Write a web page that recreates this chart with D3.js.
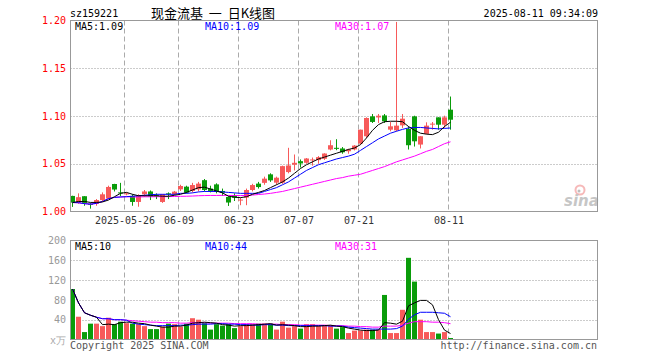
<!DOCTYPE html>
<html><head><meta charset="utf-8">
<script src="https://cdn.jsdelivr.net/npm/d3@7"></script>
<style>
body{margin:0;background:#fff}
svg{display:block}
text{font-family:"DejaVu Sans Mono",monospace;font-size:10px}
</style></head><body>
<svg id="chart" width="660" height="360"></svg>
<script>
// ---- Data ----
const code = 'sz159221';
const title = '现金流基  一  日K线图';
const stamp = '2025-08-11 09:34:09';

const open  = [1.0163,1.0093,1.016,1.008,1.008,1.012,1.0135,1.0288,1.020,1.018,1.0163,1.010,1.018,1.021,1.017,1.010,1.019,1.018,1.0232,1.026,1.0215,1.0232,1.0328,1.024,1.0284,1.0215,1.0152,1.017,1.0118,1.0146,1.0225,1.0292,1.030,1.0389,1.0302,1.0302,1.0413,1.049,1.0527,1.051,1.0535,1.0538,1.0552,1.0649,1.0667,1.066,1.0631,1.065,1.0711,1.0788,1.0996,1.0985,1.1006,1.0857,1.085,1.0902,1.0865,1.0996,1.0701,1.0813,1.0915,1.0986,1.0909,1.1066];
const high  = [1.0165,1.019,1.016,1.009,1.013,1.020,1.027,1.029,1.030,1.020,1.018,1.018,1.0225,1.022,1.019,1.018,1.020,1.0215,1.028,1.027,1.030,1.031,1.034,1.027,1.0295,1.024,1.016,1.019,1.0145,1.024,1.029,1.031,1.0365,1.040,1.0365,1.048,1.0667,1.0597,1.0545,1.056,1.0565,1.058,1.061,1.0746,1.0757,1.0675,1.0657,1.0695,1.0857,1.0986,1.1021,1.1021,1.1021,1.0937,1.1985,1.1021,1.0892,1.1003,1.0788,1.0934,1.0937,1.0986,1.1003,1.1204];
const low   = [1.0048,1.008,1.006,1.003,1.006,1.011,1.013,1.021,1.016,1.017,1.006,1.005,1.0155,1.012,1.013,1.009,1.013,1.017,1.0215,1.019,1.020,1.021,1.021,1.020,1.019,1.0163,1.0058,1.011,1.0066,1.0066,1.021,1.024,1.028,1.031,1.028,1.029,1.040,1.043,1.046,1.050,1.048,1.050,1.054,1.064,1.0642,1.0605,1.0605,1.064,1.0701,1.0771,1.0927,1.0927,1.0927,1.084,1.084,1.0875,1.0649,1.068,1.066,1.0809,1.0857,1.0857,1.0875,1.0857];
const close = [1.0093,1.015,1.009,1.007,1.012,1.018,1.0257,1.023,1.019,1.019,1.010,1.0167,1.021,1.016,1.016,1.018,1.0185,1.0208,1.0267,1.0198,1.0277,1.0292,1.0225,1.0215,1.0204,1.0198,1.0094,1.0145,1.0125,1.0225,1.0277,1.0256,1.0344,1.0326,1.0354,1.0475,1.0482,1.051,1.0503,1.0555,1.0545,1.0569,1.0607,1.0694,1.0656,1.062,1.0649,1.069,1.0857,1.0979,1.0938,1.1003,1.0944,1.0892,1.0899,1.0972,1.0694,1.0735,1.0788,1.0899,1.092,1.0909,1.0986,1.0961];
const volume = [102,46,15,32,32,27,44,31,36,33,32,31,27,21,21,26,32,31,26,32,43,40,33,20,31,28,31,23,27,31,31,32,32,32,20,36,24,27,22,31,31,27,28,29,22,25,13,18,18,20,20,20,90,13,13,60,165,117,40,15,15,12,15,3];

const ma5  = [1.0094,1.0105,1.0105,1.0095,1.0095,1.010,1.012,1.0155,1.019,1.020,1.018,1.0165,1.0165,1.0165,1.0165,1.016,1.016,1.017,1.018,1.020,1.0225,1.025,1.0255,1.0235,1.0215,1.0195,1.016,1.015,1.0145,1.0155,1.018,1.020,1.022,1.025,1.028,1.031,1.035,1.040,1.045,1.049,1.052,1.055,1.057,1.059,1.061,1.063,1.065,1.0665,1.070,1.077,1.085,1.091,1.094,1.0945,1.0945,1.094,1.089,1.085,1.082,1.081,1.0805,1.083,1.089,1.0935];
const ma10 = [1.0094,1.0092,1.0082,1.0077,1.0085,1.0105,1.0135,1.0148,1.0152,1.0155,1.016,1.0165,1.017,1.0175,1.018,1.018,1.018,1.018,1.019,1.019,1.0195,1.0205,1.021,1.021,1.021,1.0205,1.020,1.0195,1.019,1.019,1.019,1.019,1.021,1.023,1.025,1.028,1.031,1.035,1.039,1.043,1.046,1.049,1.051,1.053,1.055,1.0565,1.058,1.060,1.064,1.068,1.072,1.076,1.079,1.082,1.084,1.086,1.0875,1.088,1.088,1.0875,1.087,1.0865,1.087,1.0875];
const ma30 = [1.0094,1.0092,1.0082,1.0077,1.0085,1.0105,1.0135,1.0148,1.0152,1.0155,1.0152,1.0152,1.0154,1.0154,1.0155,1.0155,1.0156,1.0157,1.0159,1.016,1.0162,1.0165,1.0167,1.0168,1.0168,1.0169,1.0168,1.0168,1.0167,1.0168,1.0172,1.0178,1.0183,1.019,1.020,1.021,1.0225,1.024,1.0255,1.027,1.0285,1.030,1.0315,1.033,1.0345,1.0355,1.037,1.038,1.039,1.041,1.043,1.045,1.047,1.0495,1.052,1.054,1.056,1.058,1.0605,1.063,1.065,1.068,1.071,1.073];

const vma5  = [102,74,54,49,45,30,31,30,34,35,35,33,32,29,27,25,25,27,27,29,33,34,35,34,33,30,29,27,28,28,29,30,31,32,29,30,29,28,26,26,27,27,28,29,27,26,23,21,19,18,18,19,34,33,31,37,68,74,79,79,70,40,19,12];
const vma10 = [102,74,54,49,45,42,42,40,40,39,33,31,30,29,28,28,28,28,29,29,30,31,31,31,32,32,31,31,30,30,29,29,30,30,29,29,28,28,28,28,28,28,28,27,27,27,25,24,23,22,21,21,21,21,22,27,41,50,55,55,55,54,53,46];
const vma30 = [102,74,54,49,45,42,42,40,40,39,38,37,36,35,35,34,34,34,33,33,34,34,34,33,33,33,33,32,32,32,32,31,31,31,31,30,30,30,29,29,29,29,29,28,28,28,27,27,26,26,25,25,27,27,27,29,33,36,36,36,35,35,34,32];

const dateTicks  = [9, 18, 28, 38, 48, 63];
const dateLabels = ['2025-05-26', '06-09', '06-23', '07-07', '07-21', '08-11'];
const priceTicks = [1.00, 1.05, 1.10, 1.15, 1.20];
const volTicks   = [40, 80, 120, 160, 200];
const priceLegend = [['MA5:1.09', '#000'], ['MA10:1.09', '#0000ff'], ['MA30:1.07', '#ff00ff']];
const volLegend   = [['MA5:10', '#000'], ['MA10:44', '#0000ff'], ['MA30:31', '#ff00ff']];

// ---- Layout ----
const svg = d3.select('#chart');
const left = 70.5, right = 597.5;
const RED = '#f75a5a', GREEN = '#0a9c0a';

const x = d3.scaleLinear().domain([0, 87]).range([72.5, 72.5 + 6 * 87]);
const yP = d3.scaleLinear().domain([1.0, 1.2]).range([211.5, 20.5]);
const yV = d3.scaleLinear().domain([0, 200]).range([339.5, 240.5]);

// header
svg.append('text').attr('x', 70).attr('y', 17).attr('fill', '#000').text(code);
svg.append('text').attr('x', 151).attr('y', 18)
  .style('font-family', '"Noto Sans CJK SC", sans-serif').style('font-size', '13px')
  .style('white-space', 'pre').attr('fill', '#000').text(title);
svg.append('text').attr('x', 598).attr('y', 17).attr('text-anchor', 'end').attr('fill', '#000').text(stamp);

// ---- grids ----
function grid(yScale, vals, top, bottom) {
  const g = svg.append('g');
  g.selectAll('line.h').data(vals).join('line')
    .attr('x1', left).attr('x2', right)
    .attr('y1', d => Math.round(yScale(d)) + 0.5).attr('y2', d => Math.round(yScale(d)) + 0.5)
    .attr('stroke', '#999').attr('stroke-dasharray', '1,2');
  g.selectAll('line.v').data(dateTicks).join('line')
    .attr('x1', d => x(d) - 2).attr('x2', d => x(d) - 2)
    .attr('y1', top).attr('y2', bottom)
    .attr('stroke', '#aaa').attr('stroke-dasharray', '5,3');
}
grid(yP, [1.05, 1.10, 1.15], 20.5, 211.5);
grid(yV, [40, 80, 120, 160], 240.5, 339.5);

// sina watermark
const wm = svg.append('g').attr('opacity', 0.55);
wm.append('circle').attr('cx', 580).attr('cy', 190).attr('r', 4.5).attr('fill', 'none').attr('stroke', '#f08080').attr('stroke-width', 2);
wm.append('circle').attr('cx', 579).attr('cy', 191).attr('r', 1.5).attr('fill', '#888');
wm.append('text').attr('x', 564).attr('y', 206)
  .style('font-family', '"DejaVu Sans", sans-serif').style('font-size', '15px')
  .style('font-weight', 'bold').style('font-style', 'italic').attr('fill', '#999').text('sina');

// ---- candles ----
const idx = d3.range(close.length);
const cg = svg.append('g');
cg.selectAll('line.wick').data(idx).join('line')
  .attr('x1', i => x(i)).attr('x2', i => x(i))
  .attr('y1', i => yP(high[i])).attr('y2', i => yP(low[i]))
  .attr('stroke', i => close[i] >= open[i] ? RED : GREEN);
cg.selectAll('rect.body').data(idx).join('rect')
  .attr('x', i => x(i) - 2.5).attr('width', 5)
  .attr('y', i => yP(Math.max(open[i], close[i])))
  .attr('height', i => Math.max(1, Math.abs(yP(open[i]) - yP(close[i]))))
  .attr('fill', i => close[i] >= open[i] ? RED : GREEN);

// ---- volume bars ----
svg.append('g').selectAll('rect').data(idx).join('rect')
  .attr('x', i => x(i) - 2.5).attr('width', 5)
  .attr('y', i => yV(volume[i])).attr('height', i => yV(0) - yV(volume[i]))
  .attr('fill', i => close[i] >= open[i] ? RED : GREEN);

// ---- MA lines ----
function maLine(vals, yScale, color) {
  const line = d3.line().x((d, i) => x(i)).y(d => yScale(d));
  svg.append('path').datum(vals).attr('d', line)
    .attr('fill', 'none').attr('stroke', color).attr('stroke-width', 1);
}
maLine(ma30, yP, '#ff00ff');
maLine(ma10, yP, '#0000ff');
maLine(ma5, yP, '#000');
maLine(vma30, yV, '#ff00ff');
maLine(vma10, yV, '#0000ff');
maLine(vma5, yV, '#000');

// ---- frames ----
svg.append('rect').attr('x', left).attr('y', 20.5).attr('width', right - left).attr('height', 191)
  .attr('fill', 'none').attr('stroke', '#999');
svg.append('rect').attr('x', left).attr('y', 240.5).attr('width', right - left).attr('height', 99)
  .attr('fill', 'none').attr('stroke', '#999');

// ---- axes ----
const pAxis = svg.append('g').attr('transform', 'translate(70,0)')
  .call(d3.axisLeft(yP).tickValues(priceTicks).tickFormat(d3.format('.2f')).tickSize(0).tickPadding(4));
const vAxis = svg.append('g').attr('transform', 'translate(70,0)')
  .call(d3.axisLeft(yV).tickValues(volTicks).tickFormat(d3.format('d')).tickSize(0).tickPadding(4));
[pAxis, vAxis].forEach(a => {
  a.select('.domain').remove();
  a.selectAll('text').style('font-family', '"DejaVu Sans Mono", monospace').style('font-size', '10px');
});
pAxis.selectAll('text').attr('fill', '#f00');
vAxis.selectAll('text').attr('fill', '#999');
svg.append('text').attr('x', 66).attr('y', 344).attr('text-anchor', 'end').attr('fill', '#aaa').text('x万');

const dAxis = svg.append('g').attr('transform', 'translate(-2,211.5)')
  .call(d3.axisBottom(x).tickValues(dateTicks).tickFormat((d, k) => dateLabels[k]).tickSize(0).tickPadding(5));
dAxis.select('.domain').remove();
dAxis.selectAll('text').attr('fill', '#333')
  .style('font-family', '"DejaVu Sans Mono", monospace').style('font-size', '10px');

// ---- legends ----
const lx = [75, 205, 335];
svg.append('g').selectAll('text').data(priceLegend).join('text')
  .attr('x', (d, k) => lx[k]).attr('y', 30).attr('fill', d => d[1]).text(d => d[0]);
svg.append('g').selectAll('text').data(volLegend).join('text')
  .attr('x', (d, k) => lx[k]).attr('y', 250).attr('fill', d => d[1]).text(d => d[0]);

// footer
svg.append('text').attr('x', 70).attr('y', 349).attr('fill', '#555').text('Copyright 2025 SINA.COM');
svg.append('text').attr('x', 597).attr('y', 349).attr('text-anchor', 'end').attr('fill', '#555').text('http://finance.sina.com.cn');
</script></body></html>
